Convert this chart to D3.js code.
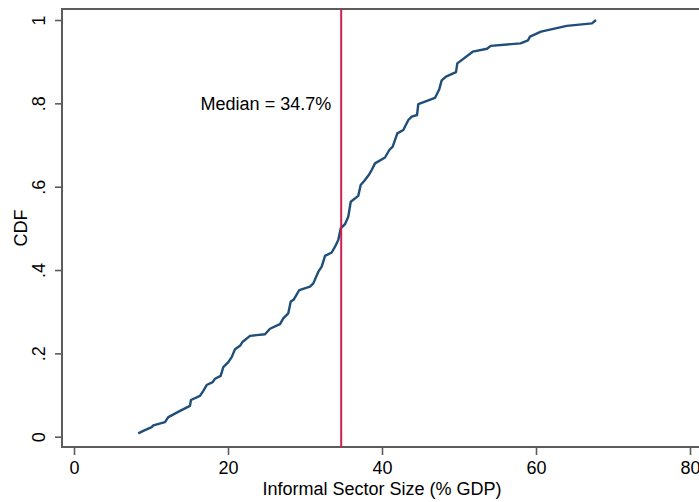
<!DOCTYPE html>
<html>
<head>
<meta charset="utf-8">
<script src="https://cdn.jsdelivr.net/npm/d3@7"></script>
<style>
  html, body { margin: 0; padding: 0; background: #fff; }
  svg { display: block; font-family: "Liberation Sans", Arial, Helvetica, sans-serif; }
</style>
</head>
<body>
<svg id="chart" width="699" height="502"></svg>
<script>
// Empirical CDF of informal sector size across countries
const informalShare = [
  8.35, 9.0, 10.09, 10.3, 11.82, 12.25, 13.77, 15.06, 15.19, 16.36,
  16.79, 17.23, 18.01, 18.31, 19.05, 19.39, 20.04, 20.48, 20.91, 21.56,
  21.91, 22.86, 24.81, 25.45, 26.75, 27.18, 27.83, 28.14, 28.57, 29.26,
  30.65, 31.08, 31.73, 32.17, 32.60, 33.47, 33.90, 34.32, 34.64, 35.19,
  35.62, 35.94, 36.92, 37.23, 37.79, 38.35, 38.66, 39.09, 40.39, 40.95,
  41.39, 41.99, 42.77, 43.42, 43.86, 44.55, 44.71, 46.88, 47.44, 47.75,
  48.31, 49.61, 49.78, 51.78, 53.64, 54.12, 57.99, 58.96, 59.22, 60.65,
  63.99, 67.27, 67.79
];
const cdfValues = [
  0.008, 0.014, 0.023, 0.027, 0.035, 0.047, 0.062, 0.074, 0.088, 0.098,
  0.110, 0.124, 0.131, 0.139, 0.146, 0.167, 0.179, 0.191, 0.210, 0.218,
  0.228, 0.242, 0.246, 0.259, 0.270, 0.284, 0.296, 0.324, 0.330, 0.352,
  0.360, 0.368, 0.396, 0.408, 0.434, 0.442, 0.456, 0.472, 0.500, 0.510,
  0.528, 0.564, 0.578, 0.604, 0.616, 0.630, 0.640, 0.656, 0.670, 0.688,
  0.696, 0.728, 0.736, 0.760, 0.768, 0.772, 0.798, 0.813, 0.834, 0.855,
  0.864, 0.875, 0.896, 0.924, 0.931, 0.938, 0.944, 0.951, 0.960, 0.972,
  0.986, 0.992, 1.0
];
const medianValue = 34.7;
const xTicks = [0, 20, 40, 60, 80];
const yTicks = [0, 0.2, 0.4, 0.6, 0.8, 1];
const yTickLabels = ["0", ".2", ".4", ".6", ".8", "1"];

const svg = d3.select("#chart");
const fontSize = 18;

const frame = { left: 62, top: 9, bottom: 447, right: 720 };
const x = d3.scaleLinear().domain([0, 80]).range([74, 690]);
const y = d3.scaleLinear().domain([0, 1]).range([436.7, 20]);

// Plot region outline
svg.append("rect")
  .attr("x", frame.left).attr("y", frame.top)
  .attr("width", frame.right - frame.left).attr("height", frame.bottom - frame.top)
  .attr("fill", "none").attr("stroke", "#5c5c5c").attr("stroke-width", 2);

// Y axis
const yAxis = svg.append("g")
  .attr("transform", `translate(${frame.left},0)`)
  .call(d3.axisLeft(y).tickValues(yTicks).tickSize(7).tickPadding(0)
    .tickFormat((d, i) => yTickLabels[i]));
yAxis.select(".domain").remove();
yAxis.selectAll(".tick line").attr("stroke", "#5c5c5c").attr("stroke-width", 1.6);
yAxis.selectAll(".tick text")
  .attr("x", null).attr("dy", null)
  .attr("transform", "translate(-17,0) rotate(-90)")
  .attr("text-anchor", "middle")
  .attr("font-size", fontSize)
  .attr("font-family", "Liberation Sans, Arial, Helvetica, sans-serif")
  .attr("fill", "#000");

// X axis
const xAxis = svg.append("g")
  .attr("transform", `translate(0,${frame.bottom})`)
  .call(d3.axisBottom(x).tickValues(xTicks).tickSize(8).tickPadding(0)
    .tickFormat(d3.format("d")));
xAxis.select(".domain").remove();
xAxis.selectAll(".tick line").attr("stroke", "#5c5c5c").attr("stroke-width", 1.6);
xAxis.selectAll(".tick text")
  .attr("y", 27).attr("dy", null)
  .attr("font-size", fontSize)
  .attr("font-family", "Liberation Sans, Arial, Helvetica, sans-serif")
  .attr("fill", "#000");

// Axis titles
svg.append("text")
  .attr("x", x(40)).attr("y", 495)
  .attr("text-anchor", "middle")
  .attr("font-size", fontSize)
  .text("Informal Sector Size (% GDP)");

svg.append("text")
  .attr("transform", `translate(27,${(frame.top + frame.bottom) / 2}) rotate(-90)`)
  .attr("text-anchor", "middle")
  .attr("font-size", fontSize)
  .text("CDF");

// CDF curve
const points = informalShare.map((v, i) => [v, cdfValues[i]]);
svg.append("path")
  .datum(points)
  .attr("fill", "none")
  .attr("stroke", "#1f4e79")
  .attr("stroke-width", 2.4)
  .attr("stroke-linejoin", "round")
  .attr("d", d3.line().x(d => x(d[0])).y(d => y(d[1])));

// Median marker
svg.append("line")
  .attr("x1", x(medianValue)).attr("x2", x(medianValue))
  .attr("y1", frame.top).attr("y2", frame.bottom)
  .attr("stroke", "#cf1f4c").attr("stroke-width", 2);

svg.append("text")
  .attr("x", x(medianValue) - 10).attr("y", y(0.8))
  .attr("dy", "0.35em")
  .attr("text-anchor", "end")
  .attr("font-size", fontSize)
  .text(`Median = ${medianValue}%`);
</script>
</body>
</html>
